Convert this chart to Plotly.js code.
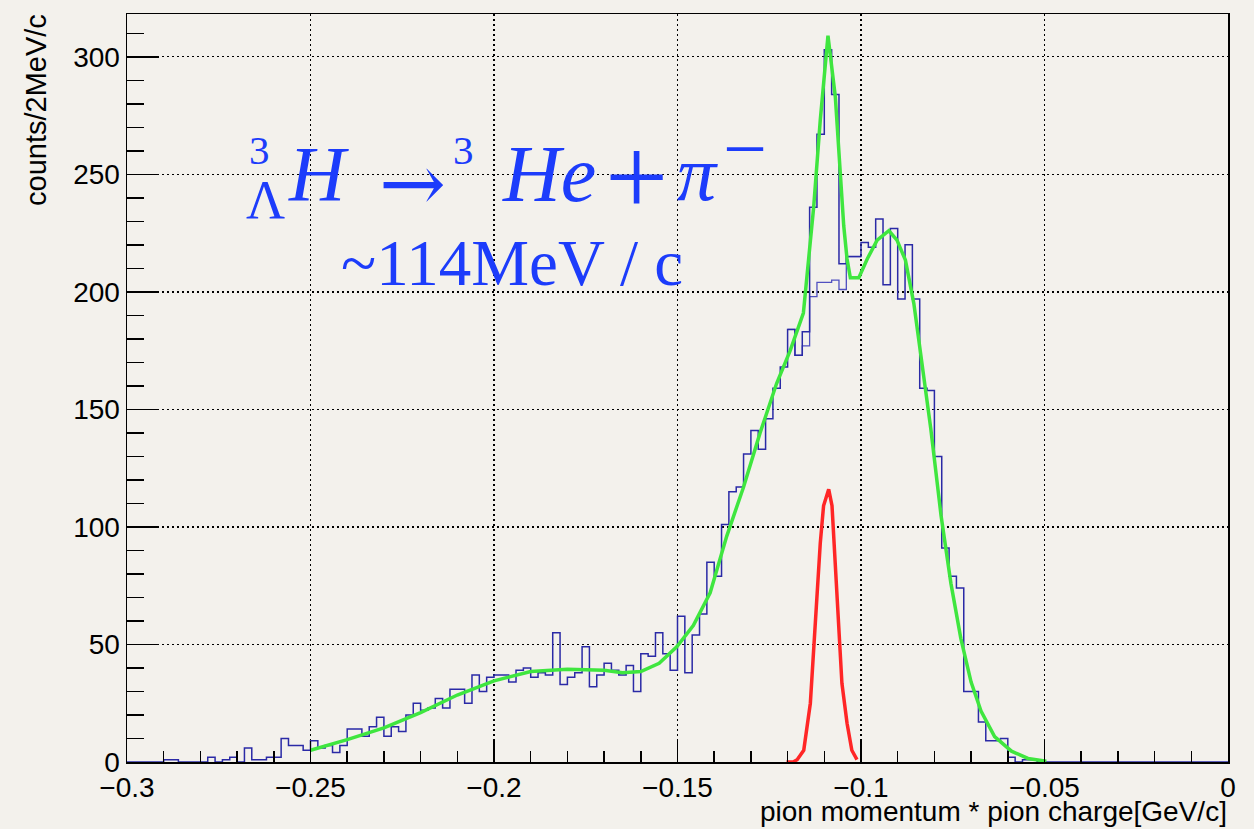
<!DOCTYPE html>
<html><head><meta charset="utf-8">
<script src="https://cdn.plot.ly/plotly-3.0.1.min.js"></script>
<style>html,body{margin:0;padding:0;background:#f3f1ec}</style>
</head><body><div id="chart" style="width:1254px;height:829px"></div>
<script>
// ---- data ----
const binLow = -0.3;
const binWidth = 0.002;
// counts per 2 MeV/c bin, from -0.300 to 0.000 GeV/c (150 bins)
const counts = [
  0,0,0,0,0,1,1,0,0,0,
  0,2,0,1,2,0,6,1,1,2,
  2,10,7,7,5,9,6,7,4,7,
  14,14,11,15,19,11,15,13,20,25,
  22,23,27,23,31,31,25,37,30,36,
  37,37,34,39,40,36,38,37,55,33,
  36,38,49,32,37,42,39,37,41,30,
  46,45,55,46,39,62,38,54,63,85,
  79,101,115,117,131,141,133,146,159,168,
  184,173,183,236,267,303,284,212,215,215,
  221,219,231,203,227,197,220,197,159,158,
  130,91,79,74,30,30,17,9,9,10,
  2,0,1,1,0,0,0,0,0,0,
  0,0,0,0,0,0,0,0,0,0,
  0,0,0,0,0,0,0,0,0,0
];
// second histogram (without the sharp peak), bins 90..99
const altFirstBin = 90;
const countsAlt = [184,173,177,198,204,204,205,201,215,215];

// green fit curve
const fitX = [-0.25,-0.24,-0.23,-0.22,-0.21,-0.20,-0.19,-0.18,-0.17,-0.165,-0.16,-0.155,-0.1502,-0.1457,-0.1411,-0.1366,-0.132,-0.1275,-0.123,-0.1193,-0.1157,-0.1129,-0.1111,-0.109,-0.107,-0.1058,-0.1047,-0.1038,-0.1029,-0.1006,-0.0983,-0.0956,-0.0924,-0.0902,-0.0879,-0.0856,-0.0837,-0.081,-0.0782,-0.0755,-0.0728,-0.07,-0.0673,-0.0636,-0.059,-0.0545,-0.0495];
const fitY = [5,9.5,14.5,21,28.5,34.5,38.5,39.5,39,38,38.5,42,49,58,72,96,117,140,161,175,191,236,273,309,283,252,228,214,206,206,214,222,226,222,213.5,195,173,142,105,76,52.6,34,21.7,10.8,4.6,1.5,0.3];

// red signal curve
const sigX = [-0.1203,-0.1185,-0.1174,-0.1156,-0.1138,-0.1129,-0.112,-0.1111,-0.1102,-0.1088,-0.1079,-0.107,-0.1061,-0.1052,-0.1038,-0.1025,-0.1011];
const sigY = [0,0,1,5,25,48,73,93,109,116,109,83,62,33.5,16.5,5,1];

// ---- build step outlines ----
function steps(first, vals){
  const x=[], y=[];
  vals.forEach((v,i)=>{ x.push(binLow+(first+i)*binWidth); y.push(v); });
  x.push(binLow+(first+vals.length)*binWidth); y.push(vals[vals.length-1]);
  return {x,y};
}
const hA = steps(0, counts);
const hB = steps(altFirstBin, countsAlt);

const traces = [
  {x:hB.x, y:hB.y, type:'scatter', mode:'lines', line:{shape:'hv', color:'#5050c0', width:1.3}, hoverinfo:'skip'},
  {x:hA.x, y:hA.y, type:'scatter', mode:'lines', line:{shape:'hv', color:'#2a2aa6', width:1.5}, hoverinfo:'skip'},
  {x:fitX, y:fitY, type:'scatter', mode:'lines', line:{color:'#3fe63f', width:3.5}},
  {x:sigX, y:sigY, type:'scatter', mode:'lines', line:{color:'#ff2626', width:3.5}}
];

// pixel helpers for annotation placement
const L=127, R=1228, T=14, B=762;
const px = p => (p-L)/(R-L);
const py = p => (B-p)/(B-T);
const blue = '#1c3cfb';
const serif = 'Liberation Serif, DejaVu Serif, serif';
function ann(text, left, center, size, extra){
  return Object.assign({text, xref:'paper', yref:'paper', x:px(left), y:py(center), xanchor:'left', yanchor:'middle',
    showarrow:false, font:{family:serif, size, color:blue}}, extra||{});
}

const annotations = [
  ann('3', 247, 150, 41),
  ann('Λ', 244, 199.5, 54),
  ann('<i>H</i>', 286, 174, 78),
  ann('→', 377, 183, 80, {font:{family:'DejaVu Serif, serif', size:80, color:blue}}),
  ann('3', 451, 150, 41),
  ann('<i>He</i>', 500, 174, 80),
  ann('+', 603, 177, 112),
  ann('<i>π</i>', 675, 174, 78),
  ann('−', 721, 148, 78),
  ann('~114MeV / c', 339, 263, 65),
  {text:'counts/2MeV/c', xref:'paper', yref:'paper', x:px(36), y:py(12), xanchor:'center', yanchor:'top', textangle:-90,
    showarrow:false, font:{family:'Liberation Sans, Arial, sans-serif', size:29, color:'#000'}},
  {text:'pion momentum * pion charge[GeV/c]', xref:'paper', yref:'paper', x:px(1229), y:py(811), xanchor:'right', yanchor:'middle',
    showarrow:false, font:{family:'Liberation Sans, Arial, sans-serif', size:28, color:'#000'}}
];

const axisCommon = {
  showline:true, linecolor:'#000', linewidth:1.5, mirror:true,
  ticks:'inside', tickcolor:'#000', tickwidth:1.5,
  showgrid:true, gridcolor:'#000', gridwidth:1.3, griddash:'2px,3px',
  zeroline:false,
  tickfont:{family:'Liberation Sans, Arial, sans-serif', size:28, color:'#000'}
};

const layout = {
  width:1254, height:829,
  margin:{l:127, r:26, t:14, b:67, pad:0},
  paper_bgcolor:'#f3f1ec', plot_bgcolor:'#f3f1ec',
  showlegend:false,
  xaxis:Object.assign({}, axisCommon, {range:[-0.3,0], tick0:-0.3, dtick:0.05, ticklen:21,
    minor:{dtick:0.01, tick0:-0.3, ticks:'inside', ticklen:11, tickwidth:1.5, tickcolor:'#000', showgrid:false}}),
  yaxis:Object.assign({}, axisCommon, {range:[0,318.2], tick0:0, dtick:50, ticklen:32,
    minor:{dtick:10, tick0:0, ticks:'inside', ticklen:17, tickwidth:1.5, tickcolor:'#000', showgrid:false}}),
  annotations
};

Plotly.newPlot('chart', traces, layout, {staticPlot:true, displayModeBar:false});
</script>
</body></html>
